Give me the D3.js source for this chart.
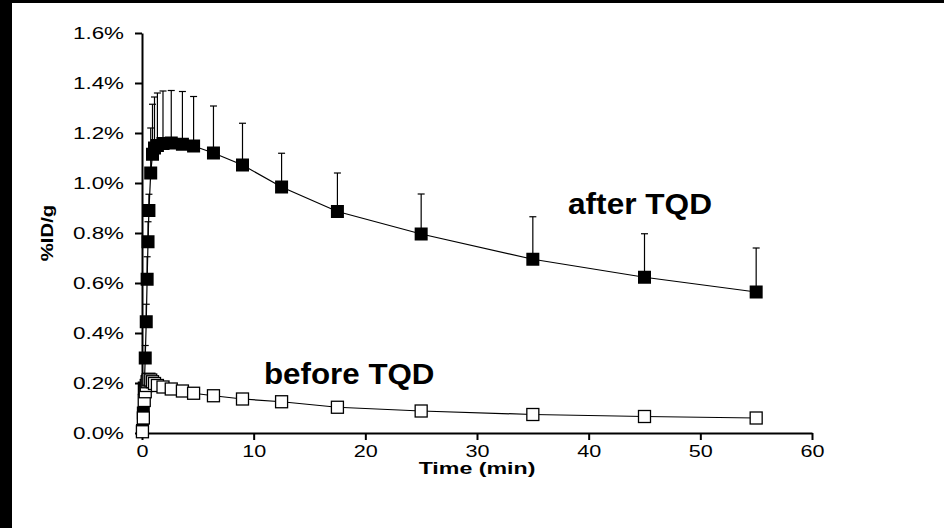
<!DOCTYPE html>
<html>
<head>
<meta charset="utf-8">
<script src="https://cdn.jsdelivr.net/npm/d3@7"></script>
<style>
  html, body { margin: 0; padding: 0; background: #fff; }
  svg { display: block; }
  text { font-family: Arial, "Liberation Sans", Helvetica, sans-serif; fill: #000; }
</style>
</head>
<body>
<svg id="chart" width="944" height="528"></svg>
<script>
// ---- data (time in min, values in %ID/g) ----
const times      = [0.04, 0.12, 0.2, 0.29, 0.38, 0.46, 0.54, 0.62, 0.78, 0.94, 1.12, 1.38, 1.88, 2.62, 3.62, 4.62, 6.4, 9, 12.5, 17.5, 25, 35, 45, 55];
const afterMean  = [0.01, 0.08, 0.18, 0.30, 0.445, 0.615, 0.765, 0.89, 1.04, 1.115, 1.14, 1.15, 1.158, 1.16, 1.155, 1.148, 1.12, 1.072, 0.984, 0.886, 0.796, 0.695, 0.623, 0.564];
const afterSD    = [0.004, 0.015, 0.03, 0.05, 0.07, 0.09, 0.08, 0.065, 0.18, 0.20, 0.204, 0.21, 0.21, 0.21, 0.211, 0.198, 0.188, 0.167, 0.135, 0.154, 0.16, 0.17, 0.174, 0.176];
const beforeMean = [0.005, 0.06, 0.13, 0.165, 0.19, 0.205, 0.212, 0.215, 0.212, 0.205, 0.198, 0.19, 0.184, 0.176, 0.168, 0.159, 0.149, 0.136, 0.125, 0.103, 0.088, 0.074, 0.066, 0.060];
const xTicks = [0, 10, 20, 30, 40, 50, 60];
const yTicks = [0, 0.2, 0.4, 0.6, 0.8, 1.0, 1.2, 1.4, 1.6];
const seriesLabels = ["after TQD", "before TQD"];
const xTitle = "Time (min)";
const yTitle = "%ID/g";

const svg = d3.select("#chart");

// black frame edges as in the reference
svg.append("rect").attr("x", 0).attr("y", 0).attr("width", 944).attr("height", 528).attr("fill", "#fff");
svg.append("rect").attr("x", 0).attr("y", 0).attr("width", 12).attr("height", 528).attr("fill", "#000");
svg.append("rect").attr("x", 0).attr("y", 0).attr("width", 944).attr("height", 3).attr("fill", "#000");

const x = d3.scaleLinear().domain([0, 60]).range([142, 812]);
const y = d3.scaleLinear().domain([0, 1.6]).range([433, 33]);

// axes
const gx = svg.append("g").attr("transform", `translate(0,${y(0)})`)
  .call(d3.axisBottom(x).tickValues(xTicks).tickSize(7).tickSizeOuter(0).tickFormat(d3.format("d")));
const gy = svg.append("g").attr("transform", `translate(${x(0)},0)`)
  .call(d3.axisLeft(y).tickValues(yTicks).tickSize(7).tickSizeOuter(0).tickFormat(d => d.toFixed(1) + "%"));

[gx, gy].forEach(g => {
  g.select(".domain").attr("stroke", "#000").attr("stroke-width", 2);
  g.selectAll(".tick line").attr("stroke", "#000").attr("stroke-width", 2);
  g.selectAll(".tick text").attr("font-family", "Arial, 'Liberation Sans', sans-serif")
    .attr("font-size", 16).attr("fill", "#000");
});
gx.selectAll(".tick text").attr("y", null).attr("dy", null)
  .attr("transform", "translate(0,24) scale(1.35,1)");
gy.selectAll(".tick text").attr("x", null).attr("dy", "0.35em")
  .attr("transform", "translate(-18,0) scale(1.4,1)");

// axis titles
svg.append("text").attr("text-anchor", "middle").attr("font-weight", "bold").attr("font-size", 16)
  .attr("transform", `translate(${(x(0) + x(60)) / 2},474) scale(1.45,1)`).text(xTitle);
svg.append("text").attr("text-anchor", "middle").attr("font-weight", "bold").attr("font-size", 16)
  .attr("transform", `translate(53,${(y(0) + y(1.6)) / 2}) rotate(-90) scale(1.27,1)`).text(yTitle);

const afterData = times.map((t, i) => ({ t, v: afterMean[i], sd: afterSD[i] }));
const beforeData = times.map((t, i) => ({ t, v: beforeMean[i] }));
const line = d3.line().x(d => x(d.t)).y(d => y(d.v));

// after series
svg.append("path").datum(afterData).attr("d", line).attr("fill", "none").attr("stroke", "#000").attr("stroke-width", 1.2);
const eb = svg.append("g").attr("stroke", "#000").attr("stroke-width", 1.2);
eb.selectAll("line.v").data(afterData).join("line").attr("class", "v")
  .attr("x1", d => x(d.t)).attr("x2", d => x(d.t))
  .attr("y1", d => y(d.v)).attr("y2", d => y(d.v + d.sd));
eb.selectAll("line.c").data(afterData).join("line").attr("class", "c")
  .attr("x1", d => x(d.t) - 3.5).attr("x2", d => x(d.t) + 3.5)
  .attr("y1", d => y(d.v + d.sd)).attr("y2", d => y(d.v + d.sd));
const sq = 13;
svg.append("g").selectAll("rect").data(afterData).join("rect")
  .attr("x", d => x(d.t) - sq / 2).attr("y", d => y(d.v) - sq / 2)
  .attr("width", sq).attr("height", sq).attr("fill", "#000");

// before series
svg.append("path").datum(beforeData).attr("d", line).attr("fill", "none").attr("stroke", "#000").attr("stroke-width", 1.2);
const sq2 = 12;
svg.append("g").selectAll("rect").data(beforeData).join("rect")
  .attr("x", d => x(d.t) - sq2 / 2).attr("y", d => y(d.v) - sq2 / 2)
  .attr("width", sq2).attr("height", sq2).attr("fill", "#fff").attr("stroke", "#000").attr("stroke-width", 1.3);

// series labels
svg.append("text").attr("font-weight", "bold").attr("font-size", 29)
  .attr("transform", "translate(568,214) scale(1.09,1)").text(seriesLabels[0]);
svg.append("text").attr("font-weight", "bold").attr("font-size", 29)
  .attr("transform", "translate(264,384) scale(1.08,1)").text(seriesLabels[1]);
</script>
</body>
</html>
